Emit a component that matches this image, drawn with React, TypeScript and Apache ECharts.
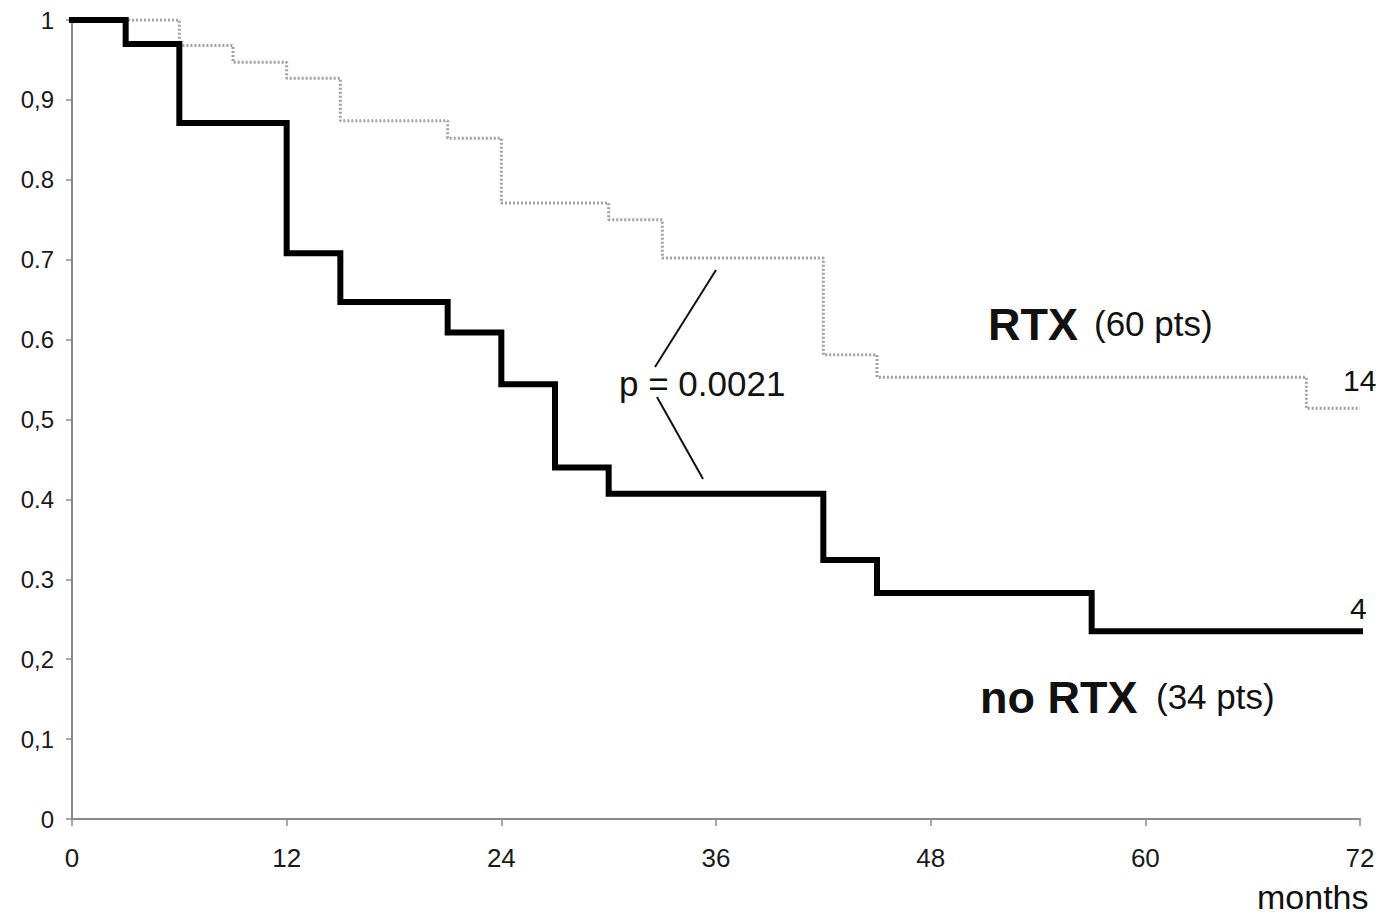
import React, { useEffect, useRef } from "react";
import * as echarts from "echarts";

const xTicks = [0, 12, 24, 36, 48, 60, 72];
const yTickLabels: Record<string, string> = {
  "0": "0",
  "0.1": "0,1",
  "0.2": "0,2",
  "0.3": "0.3",
  "0.4": "0.4",
  "0.5": "0,5",
  "0.6": "0.6",
  "0.7": "0.7",
  "0.8": "0.8",
  "0.9": "0,9",
  "1": "1",
};

// Kaplan-Meier steps: [month, survival]
const noRtxMonths = [0, 3, 6, 12, 15, 21, 24, 27, 30, 42, 45, 57, 72];
const noRtxSurv = [1, 0.97, 0.871, 0.708, 0.647, 0.609, 0.544, 0.44, 0.407, 0.324, 0.283, 0.235, 0.235];

const rtxMonths = [0, 6, 9, 12, 15, 21, 24, 30, 33, 42, 45, 69, 72];
const rtxSurv = [1, 0.968, 0.947, 0.927, 0.874, 0.852, 0.771, 0.75, 0.702, 0.581, 0.553, 0.514, 0.514];

const atRiskRtx = "14";
const atRiskNoRtx = "4";
const pValue = "p = 0.0021";

const FONT = "'Liberation Sans', Arial, Helvetica, sans-serif";

export default function App() {
  const ref = useRef<HTMLDivElement>(null);
  useEffect(() => {
    if (!ref.current) return;
    const chart = echarts.init(ref.current, null, { renderer: "svg" });
    const axisColor = "#8a8a8a";
    chart.setOption({
      animation: false,
      backgroundColor: "#ffffff",
      grid: { left: 72, right: 23, top: 20, bottom: 99, containLabel: false },
      xAxis: {
        type: "value",
        min: 0,
        max: 72,
        interval: 12,
        axisLine: { show: true, onZero: false, lineStyle: { color: axisColor, width: 2 } },
        axisTick: { show: true, length: 7, inside: false, lineStyle: { color: axisColor, width: 1.5 } },
        splitLine: { show: false },
        axisLabel: {
          margin: 26,
          color: "#1a1a1a",
          fontFamily: FONT,
          fontSize: 26,
          formatter: (v: number) => (xTicks.includes(v) ? String(v) : ""),
        },
      },
      yAxis: {
        type: "value",
        min: 0,
        max: 1,
        interval: 0.1,
        axisLine: { show: true, onZero: false, lineStyle: { color: axisColor, width: 2 } },
        axisTick: { show: true, length: 6, lineStyle: { color: axisColor, width: 1.5 } },
        splitLine: { show: false },
        axisLabel: {
          margin: 18,
          color: "#1a1a1a",
          fontFamily: FONT,
          fontSize: 24,
          formatter: (v: number) => {
            const k = String(Math.round(v * 10) / 10);
            return yTickLabels[k] ?? k;
          },
        },
      },
      series: [
        {
          name: "RTX",
          type: "line",
          step: "end",
          symbol: "none",
          data: rtxMonths.map((m, i) => [m, rtxSurv[i]]),
          lineStyle: { color: "#a0a0a0", width: 3, type: [2, 2] },
          z: 2,
        },
        {
          name: "no RTX",
          type: "line",
          step: "end",
          symbol: "none",
          data: noRtxMonths.map((m, i) => [m, noRtxSurv[i]]),
          lineStyle: { color: "#000000", width: 6, cap: "square", join: "miter" },
          z: 3,
        },
      ],
      graphic: [
        {
          type: "text",
          left: 988,
          top: 302,
          style: { text: "RTX", fontFamily: FONT, fontSize: 45, fontWeight: "bold", fill: "#111" },
        },
        {
          type: "text",
          left: 1094,
          top: 306,
          style: { text: "(60 pts)", fontFamily: FONT, fontSize: 35, fill: "#111" },
        },
        {
          type: "text",
          left: 980,
          top: 675,
          style: { text: "no RTX", fontFamily: FONT, fontSize: 45, fontWeight: "bold", fill: "#111" },
        },
        {
          type: "text",
          left: 1156,
          top: 679,
          style: { text: "(34 pts)", fontFamily: FONT, fontSize: 35, fill: "#111" },
        },
        {
          type: "text",
          left: 619,
          top: 366,
          style: { text: pValue, fontFamily: FONT, fontSize: 35, fill: "#111" },
        },
        {
          type: "line",
          shape: { x1: 655, y1: 367, x2: 716, y2: 270 },
          style: { stroke: "#111", lineWidth: 2 },
        },
        {
          type: "line",
          shape: { x1: 657, y1: 397, x2: 703, y2: 479 },
          style: { stroke: "#111", lineWidth: 2 },
        },
        {
          type: "text",
          left: 1343,
          top: 365,
          style: { text: atRiskRtx, fontFamily: FONT, fontSize: 30, fill: "#111" },
        },
        {
          type: "text",
          left: 1350,
          top: 593,
          style: { text: atRiskNoRtx, fontFamily: FONT, fontSize: 30, fill: "#111" },
        },
        {
          type: "text",
          left: 1257,
          top: 880,
          style: { text: "months", fontFamily: FONT, fontSize: 34, fill: "#111" },
        },
      ],
    });
    return () => chart.dispose();
  }, []);
  return <div ref={ref} style={{ width: 1383, height: 918, position: "absolute", left: 0, top: 0 }} />;
}
